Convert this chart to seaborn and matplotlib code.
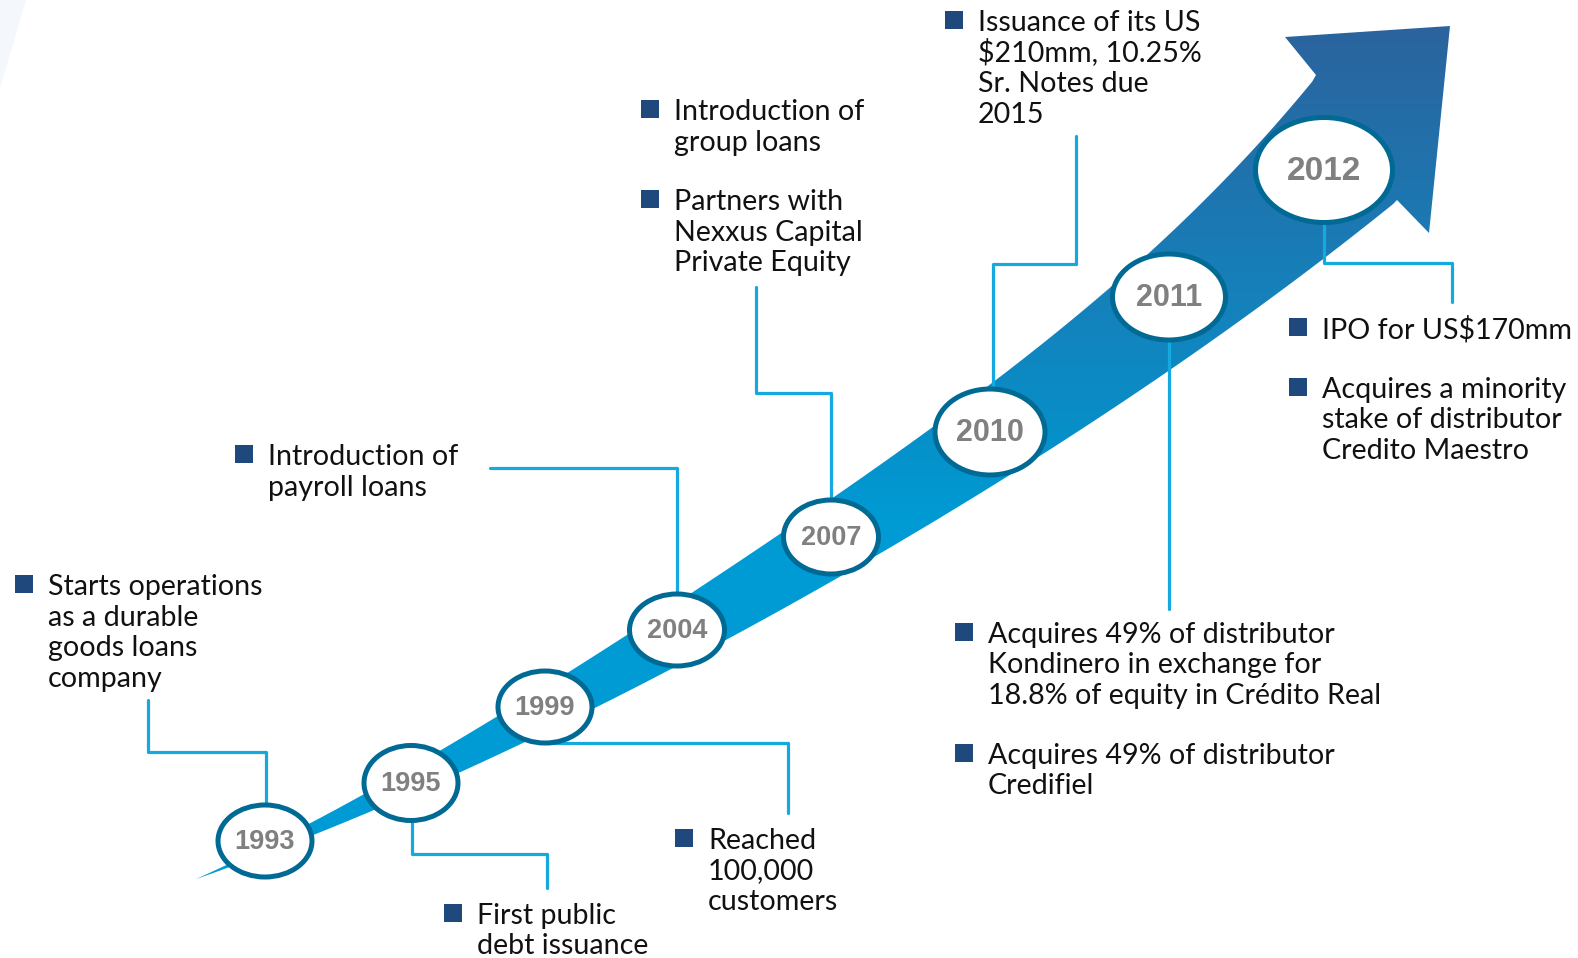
import numpy as np
import pandas as pd
import matplotlib
matplotlib.use("Agg")
import matplotlib.pyplot as plt
import seaborn as sns
from matplotlib.patches import Ellipse, Polygon
from matplotlib.colors import to_rgb

# ---------------- data ----------------
years = ["1993", "1995", "1999", "2004", "2007", "2010", "2011", "2012"]

events = [
    ["Starts operations", "as a durable", "goods loans", "company"],
    ["Introduction of", "payroll loans"],
    ["First public", "debt issuance"],
    ["Reached", "100,000", "customers"],
    ["Introduction of", "group loans"],
    ["Partners with", "Nexxus Capital", "Private Equity"],
    ["Issuance of its US", "$210mm, 10.25%", "Sr. Notes due", "2015"],
    ["Acquires 49% of distributor", "Kondinero in exchange for",
     "18.8% of equity in Crédito Real"],
    ["Acquires 49% of distributor", "Credifiel"],
    ["IPO for US$170mm"],
    ["Acquires a minority", "stake of distributor", "Credito Maestro"],
]

# ---------------- layout (pixel space) ----------------
W, H = 1578, 958
ell_x = [265, 411, 545, 677, 831, 990, 1169, 1324]
ell_y = [841, 783, 707, 630, 537, 432, 297, 170]
ell_w = [99, 99, 99, 100, 100, 115, 118, 142]
ell_h = [77, 80, 77, 77, 79, 91, 91, 110]
ell_fs = [19.5, 19.5, 19.5, 19.5, 19.5, 22, 22, 24]

bullet_x = [24, 244, 453, 684, 650, 650, 954, 964, 964, 1298, 1298]
bullet_y = [584, 454, 913, 838, 109, 199, 20, 632, 753, 327, 387]

connectors = [
    [(266, 841), (266, 752), (148, 752), (148, 700)],
    [(412, 783), (412, 854), (547, 854), (547, 888)],
    [(545, 707), (545, 743), (788, 743), (788, 813)],
    [(677, 630), (677, 468), (490, 468)],
    [(831, 537), (831, 393), (756, 393), (756, 287)],
    [(993, 432), (993, 264), (1076, 264), (1076, 136)],
    [(1169, 297), (1169, 609)],
    [(1324, 170), (1324, 263), (1452, 263), (1452, 302)],
]

upper_edge = [(195, 879), (313, 822), (377, 790), (440, 748), (567, 672),
              (627, 633), (693, 592), (767, 548), (857, 480), (900, 450),
              (1000, 377), (1113, 283), (1147, 252), (1230, 180), (1316, 75)]
head = [(1285, 37), (1450, 26), (1429, 233), (1397, 200)]
lower_edge = [(195, 879), (317, 835), (377, 808), (487, 760), (593, 707),
              (670, 670), (727, 640), (840, 577), (920, 530), (973, 500),
              (1047, 450), (1100, 414), (1167, 373), (1320, 263), (1397, 200)]

BLUE_LINE = "#14a9df"
NAVY = "#1f497d"
RING = "#006a94"
GRAY = "#808080"


def smooth_edge(pts, deg=4, n=300):
    P = np.asarray(pts, float)
    coef = np.polyfit(P[:, 0], P[:, 1], deg)
    xs = np.linspace(P[0, 0], P[-1, 0], n)
    ys = np.polyval(coef, xs)
    ys[0], ys[-1] = P[0, 1], P[-1, 1]
    return np.column_stack([xs, ys])


sns.set_theme(style="white")
plt.rcParams["font.family"] = ["Lato", "DejaVu Sans"]

fig = plt.figure(figsize=(W / 100, H / 100), dpi=100)
ax = fig.add_axes([0, 0, 1, 1])
ax.set_xlim(0, W)
ax.set_ylim(H, 0)
ax.axis("off")

# faint background shape at top-left
ax.add_patch(Polygon([(0, 0), (26, 0), (0, 88)], closed=True,
                     facecolor="#f4f8fc", edgecolor="none", zorder=0))

# ---------------- arrow with gradient ----------------
up = smooth_edge(upper_edge, deg=5)
lo = smooth_edge(lower_edge, deg=5)
outline = np.vstack([up, np.array(head, float), lo[::-1]])
poly = Polygon(outline, closed=True, facecolor="none", edgecolor="none",
               zorder=1)
ax.add_patch(poly)
stops_y = [0, 26, 180, 300, 430, 520, H]
stops_c = ["#2b639d", "#2b639d", "#1f74ae", "#1581bb", "#078fc8",
           "#009bd4", "#009bd4"]
ys = np.linspace(0, H, 600)
rgb = np.array([to_rgb(c) for c in stops_c])
grad = np.stack([np.interp(ys, stops_y, rgb[:, k]) for k in range(3)],
                axis=-1)[:, None, :]
im = ax.imshow(grad, extent=[0, W, H, 0], aspect="auto", zorder=1,
               interpolation="bilinear")
im.set_clip_path(poly)

# ---------------- connectors ----------------
rows = []
for ci, seg in enumerate(connectors):
    for oi, (x, y) in enumerate(seg):
        rows.append({"x": x, "y": y, "conn": ci, "order": oi})
cdf = pd.DataFrame(rows)
sns.lineplot(data=cdf, x="x", y="y", units="conn", estimator=None,
             sort=False, color=BLUE_LINE, linewidth=2.3, ax=ax,
             zorder=2, legend=False)

# ---------------- year ellipses ----------------
for yr, cx, cy, w, h, fs in zip(years, ell_x, ell_y, ell_w, ell_h, ell_fs):
    ax.add_patch(Ellipse((cx, cy), w - 5, h - 5, facecolor="white",
                         edgecolor=RING, linewidth=3.6, zorder=3))
    ax.text(cx, cy + 1, yr, ha="center", va="center", fontsize=fs,
            fontweight="bold", color=GRAY, family="Liberation Sans",
            zorder=4)

# ---------------- bullets and texts ----------------
bdf = pd.DataFrame({"x": bullet_x, "y": bullet_y})
sns.scatterplot(data=bdf, x="x", y="y", marker="s", s=170, color=NAVY,
                linewidth=0, ax=ax, zorder=4, legend=False)
for lines, bx, by in zip(events, bullet_x, bullet_y):
    for i, line in enumerate(lines):
        ax.text(bx + 24, by + 11 + 30.5 * i, line, ha="left",
                va="baseline", fontsize=20.6, color="#111111",
                parse_math=False, zorder=4)

ax.set_xlim(0, W)
ax.set_ylim(H, 0)
ax.axis("off")
fig.savefig("out.png", dpi=100)
